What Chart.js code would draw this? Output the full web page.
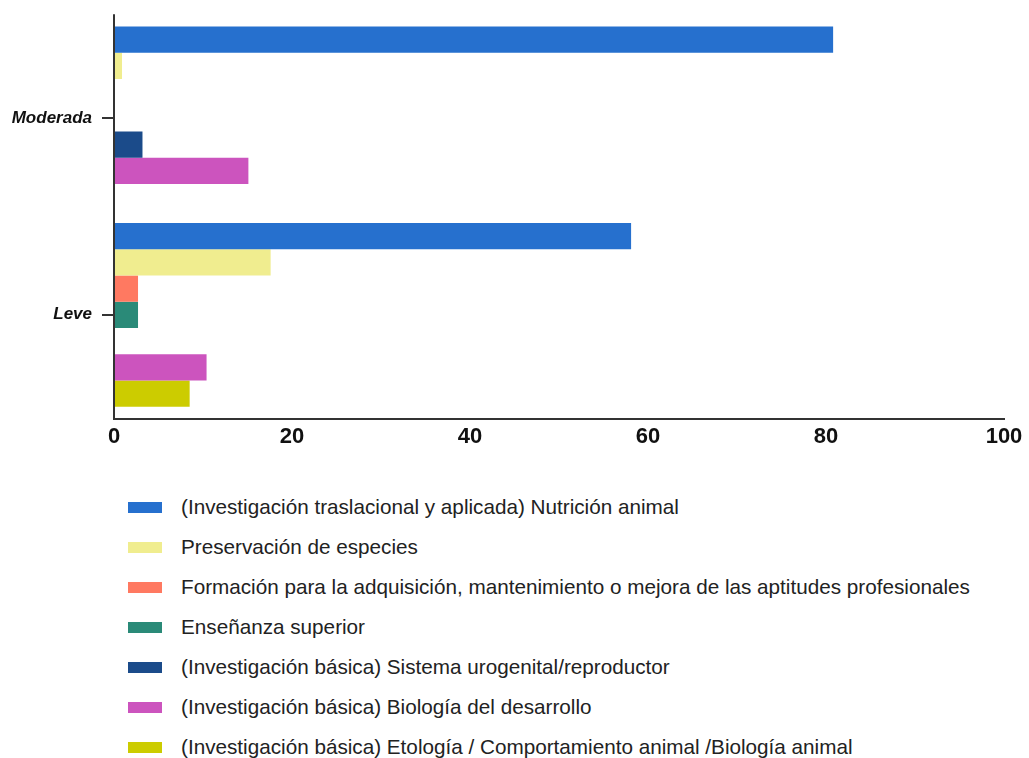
<!DOCTYPE html>
<html>
<head>
<meta charset="utf-8">
<script src="https://cdn.jsdelivr.net/npm/chart.js@4/dist/chart.umd.min.js"></script>
<style>
    body { margin: 0; background: #fff; }
    #wrap { position: relative; width: 1029px; height: 758px; }
    #legend { position: absolute; left: 128px; top: 487px; font-family: "Liberation Sans", Arial, sans-serif; font-size: 20.7px; color: #222; }
    .item { height: 40px; display: flex; align-items: center; }
    .box { width: 34px; height: 11px; margin-right: 19px; }
</style>
</head>
<body>
<div id="wrap">
    <canvas id="chart" width="1029" height="470"></canvas>
    <div id="legend"></div>
</div>
<script>
// categories from top to bottom
const categories = ["Moderada", "Leve"];

const seriesLabels = [
    "(Investigación traslacional y aplicada) Nutrición animal",
    "Preservación de especies",
    "Formación para la adquisición, mantenimiento o mejora de las aptitudes profesionales",
    "Enseñanza superior",
    "(Investigación básica) Sistema urogenital/reproductor",
    "(Investigación básica) Biología del desarrollo",
    "(Investigación básica) Etología / Comportamiento animal /Biología animal"
];

// values per series: [Moderada, Leve]
const nutricion = [80.8, 58.1];
const preservacion = [0.9, 17.6];
const formacion = [0, 2.7];
const ensenanza = [0, 2.7];
const urogenital = [3.2, 0];
const desarrollo = [15.1, 10.4];
const etologia = [0, 8.5];

const xTicks = [0, 20, 40, 60, 80, 100];

const colors = ["#2670ce", "#f0ed8f", "#ff7961", "#2a8a78", "#1b4b8a", "#cc54be", "#cccc00"];

const seriesValues = [nutricion, preservacion, formacion, ensenanza, urogenital, desarrollo, etologia];

// axis lines stick out a bit past the plot area like in the original
const axisLines = {
    id: "axisLines",
    afterDraw(chart) {
        const { ctx, chartArea } = chart;
        ctx.save();
        ctx.strokeStyle = "#333";
        ctx.lineWidth = 2;
        ctx.beginPath();
        ctx.moveTo(chartArea.left, chartArea.top - 6);
        ctx.lineTo(chartArea.left, chartArea.bottom + 6);
        ctx.lineTo(chartArea.right + 1, chartArea.bottom + 6);
        ctx.stroke();
        ctx.restore();
    }
};

new Chart(document.getElementById("chart"), {
    type: "bar",
    data: {
        labels: categories,
        datasets: seriesLabels.map((label, i) => ({
            label: label,
            data: seriesValues[i],
            backgroundColor: colors[i],
            categoryPercentage: 0.936,
            barPercentage: 1
        }))
    },
    options: {
        indexAxis: "y",
        responsive: false,
        animation: false,
        devicePixelRatio: 1,
        layout: { padding: { top: 20, right: 25, left: 0, bottom: 0 } },
        plugins: {
            legend: { display: false },
            tooltip: { enabled: false }
        },
        scales: {
            x: {
                min: 0,
                max: 100,
                afterBuildTicks: (scale) => { scale.ticks = xTicks.map(v => ({ value: v })); },
                afterFit: (scale) => { scale.height = 57; },
                grid: { display: false },
                border: { display: false },
                ticks: {
                    padding: 3,
                    color: "#111",
                    font: { family: "Liberation Sans, Arial, sans-serif", size: 22, weight: "bold" }
                }
            },
            y: {
                afterFit: (scale) => { scale.width = 114; },
                grid: { offset: false, drawOnChartArea: false, tickLength: 12, color: "#333", lineWidth: 2 },
                border: { display: false },
                ticks: {
                    padding: 10,
                    color: "#111",
                    font: { family: "Liberation Sans, Arial, sans-serif", size: 17, weight: "bold", style: "italic" }
                }
            }
        }
    },
    plugins: [axisLines]
});

// legend as a plain vertical list
const legend = document.getElementById("legend");
seriesLabels.forEach((label, i) => {
    const row = document.createElement("div");
    row.className = "item";
    const box = document.createElement("span");
    box.className = "box";
    box.style.background = colors[i];
    const text = document.createElement("span");
    text.textContent = label;
    row.appendChild(box);
    row.appendChild(text);
    legend.appendChild(row);
});
</script>
</body>
</html>
